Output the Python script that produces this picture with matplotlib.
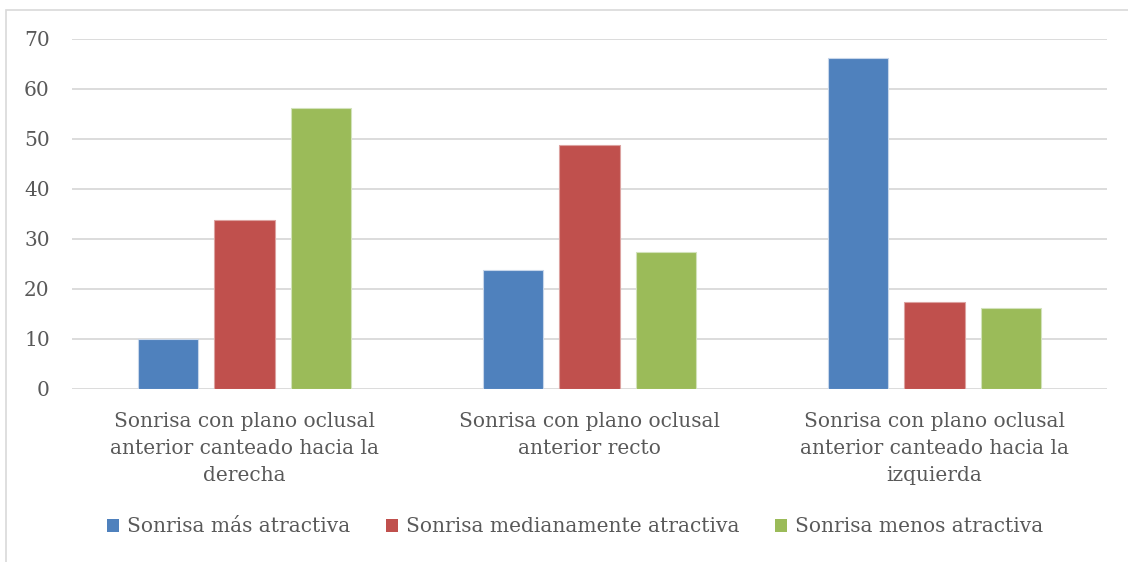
import matplotlib
matplotlib.use("Agg")
import matplotlib.pyplot as plt
from matplotlib.patches import Rectangle, Patch
import numpy as np

categories = [
    "Sonrisa con plano oclusal\nanterior canteado hacia la\nderecha",
    "Sonrisa con plano oclusal\nanterior recto",
    "Sonrisa con plano oclusal\nanterior canteado hacia la\nizquierda",
]
series_names = ["Sonrisa más atractiva", "Sonrisa medianamente atractiva", "Sonrisa menos atractiva"]
mas = [10.0, 23.75, 66.25]
mediana = [33.75, 48.75, 17.5]
menos = [56.25, 27.5, 16.25]
yticks = [0, 10, 20, 30, 40, 50, 60, 70]

colors = ["#4f81bd", "#c0504d", "#9bbb59"]
edge = ["#c7d6ea", "#dca2a0", "#d2e2bb"]
textc = "#595959"
font = "DejaVu Serif"
fs = 14.5

W, H = 1128, 562
fig = plt.figure(figsize=(W / 100, H / 100), dpi=100)
fig.patch.set_facecolor("white")

# outer chart border
fig.patches.append(Rectangle((6 / W, -0.01), 1.2, (H - 9.5) / H + 0.01, transform=fig.transFigure,
                             fill=False, edgecolor="#d9d9d9", linewidth=1.2))

ax = fig.add_axes([72 / W, (H - 389) / H, (1107 - 72) / W, (389 - 39) / H])
x = np.arange(len(categories))
bw = 0.174
off = 0.223
for i, (vals, c, e) in enumerate(zip([mas, mediana, menos], colors, edge)):
    ax.bar(x + (i - 1) * off, vals, width=bw, color=c, edgecolor=e, linewidth=0.8,
           label=series_names[i], zorder=3)

ax.set_xlim(-0.5, 2.5)
ax.set_ylim(0, 70)
ax.set_yticks(yticks)
ax.set_yticklabels([str(v) for v in yticks], fontfamily=font, fontsize=fs, color=textc)
ax.yaxis.grid(True, color="#d9d9d9", linewidth=1.3, zorder=0)
ax.set_axisbelow(True)
ax.set_xticks(x)
ax.set_xticklabels(categories, fontfamily=font, fontsize=fs, color=textc, linespacing=1.52)
ax.tick_params(axis="both", length=0)
ax.tick_params(axis="x", pad=16.5)
ax.tick_params(axis="y", pad=16)
for s in ax.spines.values():
    s.set_visible(False)

handles = [Patch(facecolor=c, edgecolor="none") for c in colors]
leg = fig.legend(handles, series_names, loc="center", bbox_to_anchor=(575 / W, (H - 527) / H),
                 ncol=3, frameon=False, prop={"family": font, "size": fs},
                 handlelength=0.6, handleheight=0.6, handletextpad=0.4, columnspacing=1.75)
for t in leg.get_texts():
    t.set_color(textc)

fig.savefig("out.png", dpi=100, facecolor="white")
